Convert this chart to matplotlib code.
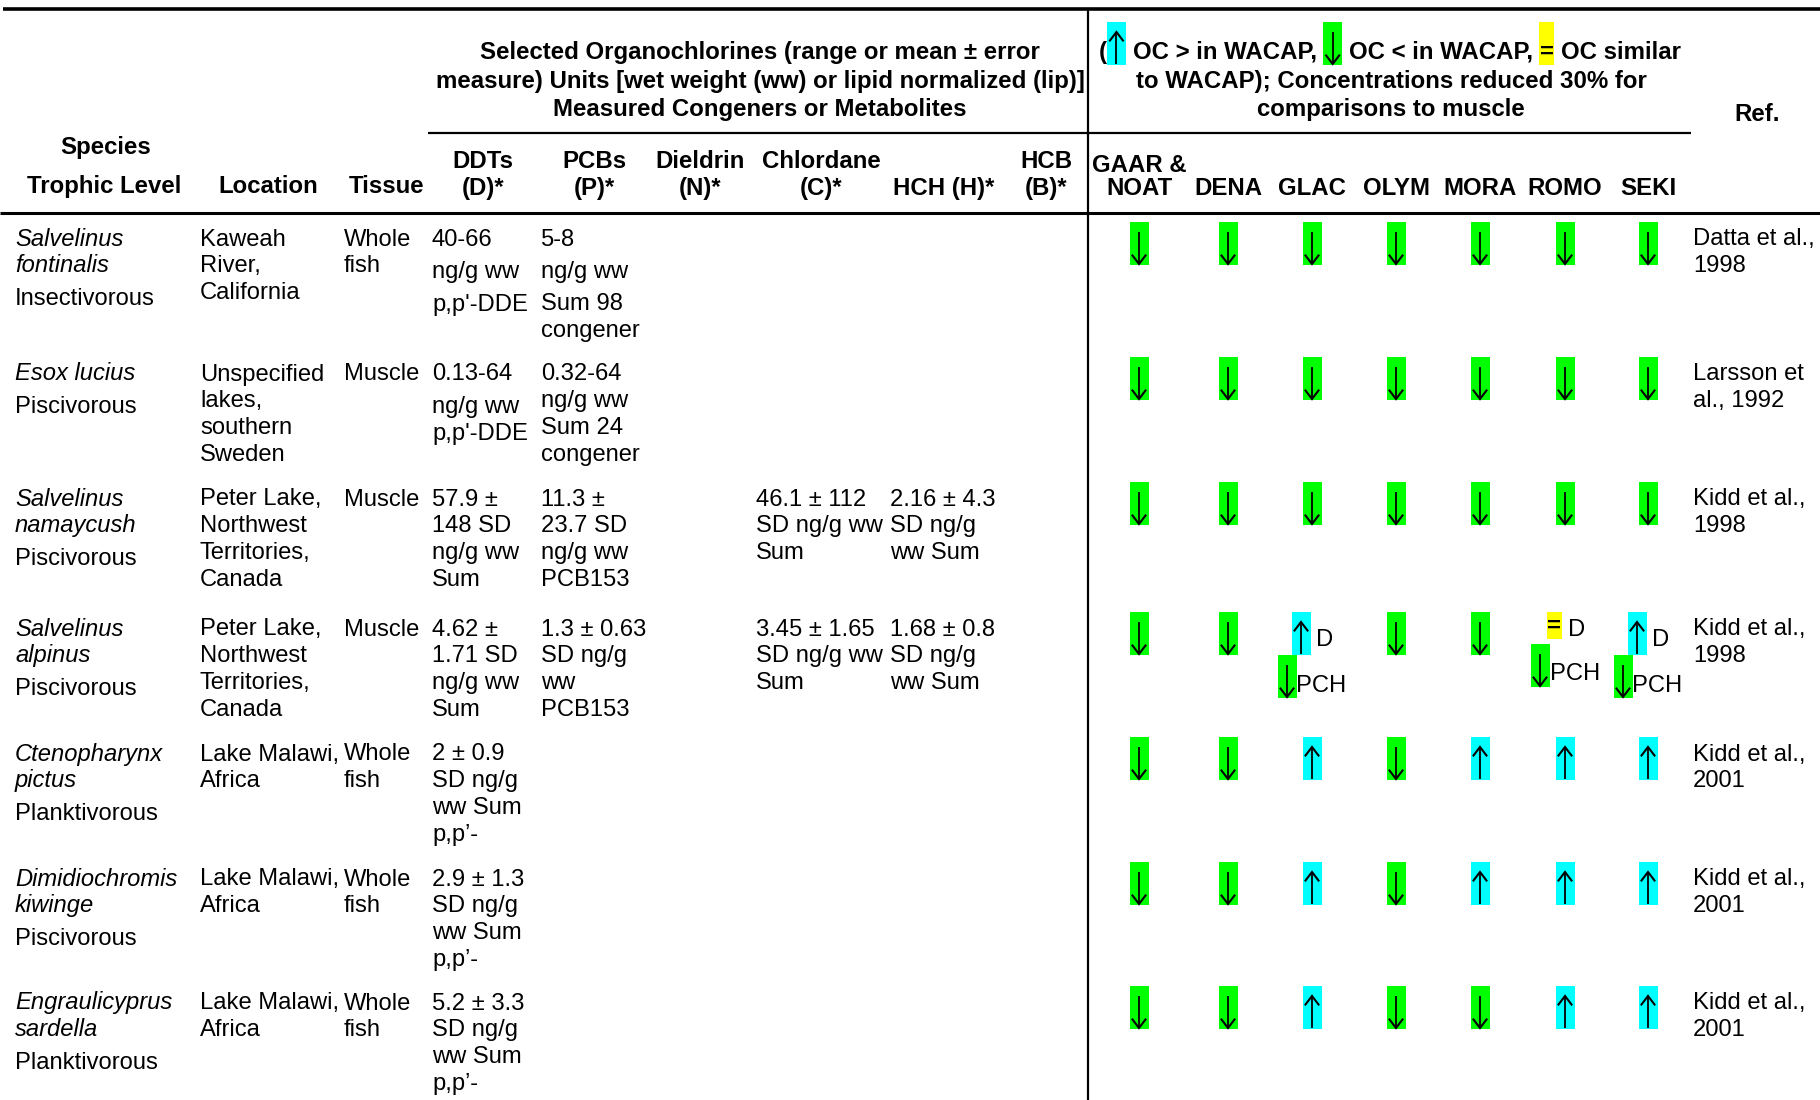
import matplotlib.pyplot as plt
from matplotlib.patches import Rectangle

plt.rcParams['font.family'] = ['Liberation Sans', 'DejaVu Sans']

# ---- table content ("\n" = wrapped line, "\n\n" = new paragraph) ----
species = ["Salvelinus\nfontinalis", "Esox lucius", "Salvelinus\nnamaycush",
           "Salvelinus\nalpinus", "Ctenopharynx\npictus", "Dimidiochromis\nkiwinge",
           "Engraulicyprus\nsardella"]
trophic = ["Insectivorous", "Piscivorous", "Piscivorous", "Piscivorous",
           "Planktivorous", "Piscivorous", "Planktivorous"]
location = ["Kaweah\nRiver,\nCalifornia",
            "Unspecified\nlakes,\nsouthern\nSweden",
            "Peter Lake,\nNorthwest\nTerritories,\nCanada",
            "Peter Lake,\nNorthwest\nTerritories,\nCanada",
            "Lake Malawi,\nAfrica", "Lake Malawi,\nAfrica", "Lake Malawi,\nAfrica"]
tissue = ["Whole\nfish", "Muscle", "Muscle", "Muscle",
          "Whole\nfish", "Whole\nfish", "Whole\nfish"]
ddt = ["40-66\n\nng/g ww\n\np,p'-DDE",
       "0.13-64\n\nng/g ww\np,p'-DDE",
       "57.9 \u00b1\n148 SD\nng/g ww\nSum",
       "4.62 \u00b1\n1.71 SD\nng/g ww\nSum",
       "2 \u00b1 0.9\nSD ng/g\nww Sum\np,p\u2019-",
       "2.9 \u00b1 1.3\nSD ng/g\nww Sum\np,p\u2019-",
       "5.2 \u00b1 3.3\nSD ng/g\nww Sum\np,p\u2019-"]
pcb = ["5-8\n\nng/g ww\n\nSum 98\ncongener",
       "0.32-64\nng/g ww\nSum 24\ncongener",
       "11.3 \u00b1\n23.7 SD\nng/g ww\nPCB153",
       "1.3 \u00b1 0.63\nSD ng/g\nww\nPCB153",
       "", "", ""]
dieldrin = ["", "", "", "", "", "", ""]
chlordane = ["", "", "46.1 \u00b1 112\nSD ng/g ww\nSum", "3.45 \u00b1 1.65\nSD ng/g ww\nSum",
             "", "", ""]
hch = ["", "", "2.16 \u00b1 4.3\nSD ng/g\nww Sum", "1.68 \u00b1 0.8\nSD ng/g\nww Sum",
       "", "", ""]
hcb = ["", "", "", "", "", "", ""]
refs = ["Datta et al.,\n1998", "Larsson et\nal., 1992", "Kidd et al.,\n1998",
        "Kidd et al.,\n1998", "Kidd et al.,\n2001", "Kidd et al.,\n2001",
        "Kidd et al.,\n2001"]

oc_labels = ["DDTs\n(D)*", "PCBs\n(P)*", "Dieldrin\n(N)*", "Chlordane\n(C)*",
             "\nHCH (H)*", "HCB\n(B)*"]
parks = ["GAAR &\nNOAT", "DENA", "GLAC", "OLYM", "MORA", "ROMO", "SEKI"]

# u = higher than WACAP, d = lower, = similar; pairs are (sign, compound letters)
comparison = [
    ["d", "d", "d", "d", "d", "d", "d"],
    ["d", "d", "d", "d", "d", "d", "d"],
    ["d", "d", "d", "d", "d", "d", "d"],
    ["d", "d", [("u", "D"), ("d", "PCH")], "d", "d",
     [("=", "D"), ("d", "PCH")], [("u", "D"), ("d", "PCH")]],
    ["d", "d", "u", "d", "u", "u", "u"],
    ["d", "d", "u", "d", "u", "u", "u"],
    ["d", "d", "u", "d", "d", "u", "u"],
]

colors = {"u": "#00FFFF", "d": "#00FF00", "=": "#FFFF00"}

# ---- layout (pixels) ----
row_y = [237, 372, 497, 627, 752, 877, 1001]
col_x = [15, 200, 344, 432, 541, 650, 756, 890, 1010]
oc_centers = [483, 594, 700, 821, 944, 1046]
park_x = [1139, 1228, 1312, 1396, 1480, 1565, 1648]
ref_x = 1693
WRAP, PARA = 26.8, 32.5
FS, HFS = 17.1, 17.3

fig = plt.figure(figsize=(18.2, 11), dpi=100)
ax = fig.add_axes([0, 0, 1, 1])
ax.set_xlim(0, 1820)
ax.set_ylim(1100, 0)
ax.axis('off')
renderer = fig.canvas.get_renderer()


def cell(x, y, text, styles=None, ha='left', **kw):
    if not text:
        return
    yy = y
    for i, para in enumerate(text.split("\n\n")):
        if i:
            yy += PARA - WRAP
        st = styles[i] if styles else 'normal'
        for line in para.split("\n"):
            if line:
                ax.text(x, yy + 8.5, line, ha=ha, va='baseline', fontsize=FS,
                        style=st, **kw)
            yy += WRAP


def arrow(xc, top, h, up):
    y_a, y_b = top + 10, top + h - 1
    ax.plot([xc, xc], [y_a, y_b], color='black', lw=1.3, solid_capstyle='butt')
    if up:
        ax.plot([xc - 6.5, xc, xc + 6.5], [y_a + 8.5, y_a, y_a + 8.5], color='black',
                lw=1.5, solid_joinstyle='miter')
    else:
        ax.plot([xc - 6.5, xc, xc + 6.5], [y_b - 8.5, y_b, y_b - 8.5], color='black',
                lw=1.5, solid_joinstyle='miter')


def mark(xc, top, code, h=43):
    if code == "=":
        hh = h if h != 43 else 27
        ax.add_patch(Rectangle((xc - 7.5, top), 15, hh, facecolor=colors["="],
                               edgecolor='none'))
        ax.text(xc, top + hh / 2 + 1, "=", ha='center', va='center', fontsize=HFS,
                fontweight='bold')
    else:
        ax.add_patch(Rectangle((xc - 9.5, top), 19, h, facecolor=colors[code],
                               edgecolor='none'))
        arrow(xc, top, h, code == "u")


def comp(xc, ry, code):
    top = ry - 15
    if isinstance(code, str):
        mark(xc, top, code)
        return
    (s1, lab1), (s2, lab2) = code
    x1 = xc - 11
    mark(x1, top, s1)
    if s1 == "=":
        ax.text(x1 + 7.5 + 6, ry + 8.5, lab1, va='baseline', fontsize=FS)
        top2 = top + 32
    else:
        ax.text(x1 + 9.5 + 5, ry + 11 + 8.5, lab1, va='baseline', fontsize=FS)
        top2 = top + 43
    x2 = xc - 25
    mark(x2, top2, s2)
    ax.text(x2 + 9.5, top2 + 28 + 8.5, lab2, va='baseline', fontsize=FS)


# ---- rules ----
ax.plot([3, 1820], [9, 9], color='black', lw=2.6, solid_capstyle='butt')
ax.plot([0, 1820], [213, 213], color='black', lw=2.2, solid_capstyle='butt')
ax.plot([428, 1088], [133, 133], color='black', lw=1.6, solid_capstyle='butt')
ax.plot([1088, 1691], [133, 133], color='black', lw=1.6, solid_capstyle='butt')
ax.plot([1088, 1088], [9, 1100], color='black', lw=1.6, solid_capstyle='butt')

# ---- header ----
hdr = dict(fontsize=HFS, fontweight='bold', va='baseline')
for yy, s in zip([50, 79, 107], ["Selected Organochlorines (range or mean \u00b1 error",
                                 "measure) Units [wet weight (ww) or lipid normalized (lip)]",
                                 "Measured Congeners or Metabolites"]):
    ax.text(760, yy + 8.7, s, ha='center', **hdr)

for yy, s in zip([79, 107], ["to WACAP); Concentrations reduced 30% for",
                             "comparisons to muscle"]):
    ax.text(1391, yy + 8.7, s, ha='center', **hdr)


def tw(s):
    t = ax.text(0, 0, s, **hdr)
    w = t.get_window_extent(renderer).width
    t.remove()
    return w


sp = tw("O O") - tw("OO")
pieces = [("t", "("), ("b", "u"), ("s", None), ("t", "OC > in WACAP,"), ("s", None),
          ("b", "d"), ("s", None), ("t", "OC < in WACAP,"), ("s", None),
          ("b", "="), ("s", None), ("t", "OC similar")]
widths = []
for kind, val in pieces:
    if kind == "t":
        widths.append(tw(val))
    elif kind == "s":
        widths.append(sp)
    else:
        widths.append(15 if val == "=" else 19)
xx = 1390 - sum(widths) / 2
for (kind, val), w in zip(pieces, widths):
    if kind == "t":
        ax.text(xx, 50 + 8.7, val, ha='left', **hdr)
    elif kind == "b":
        if val == "=":
            ax.add_patch(Rectangle((xx, 22), 15, 43, facecolor=colors["="], edgecolor='none'))
            ax.text(xx + 7.5, 52, "=", ha='center', va='center', fontsize=HFS,
                    fontweight='bold')
        else:
            mark(xx + 9.5, 22, val)
    xx += w

ax.text(1757, 112 + 8.7, "Ref.", ha='center', **hdr)
ax.text(106, 145 + 8.7, "Species", ha='center', **hdr)
ax.text(104, 184 + 8.7, "Trophic Level", ha='center', **hdr)
ax.text(268, 184 + 8.7, "Location", ha='center', **hdr)
ax.text(387, 184 + 8.7, "Tissue", ha='center', **hdr)
for xc, lab in zip(oc_centers, oc_labels):
    top, bot = lab.split("\n")
    if top:
        ax.text(xc, 159 + 8.7, top, ha='center', **hdr)
    ax.text(xc, 186 + 8.7, bot, ha='center', **hdr)
for xc, lab in zip(park_x, parks):
    lines = lab.split("\n")
    if len(lines) == 2:
        ax.text(xc, 163 + 8.7, lines[0], ha='center', **hdr)
    ax.text(xc, 186 + 8.7, lines[-1], ha='center', **hdr)

# ---- body ----
for i, ry in enumerate(row_y):
    cell(col_x[0], ry, species[i] + "\n\n" + trophic[i], styles=['italic', 'normal'])
    cell(col_x[1], ry, location[i])
    cell(col_x[2], ry, tissue[i])
    cell(col_x[3], ry, ddt[i])
    cell(col_x[4], ry, pcb[i])
    cell(col_x[5], ry, dieldrin[i])
    cell(col_x[6], ry, chlordane[i])
    cell(col_x[7], ry, hch[i])
    cell(col_x[8], ry, hcb[i])
    cell(ref_x, ry, refs[i])
    for xc, code in zip(park_x, comparison[i]):
        comp(xc, ry, code)

fig.savefig("out.png", dpi=100)
